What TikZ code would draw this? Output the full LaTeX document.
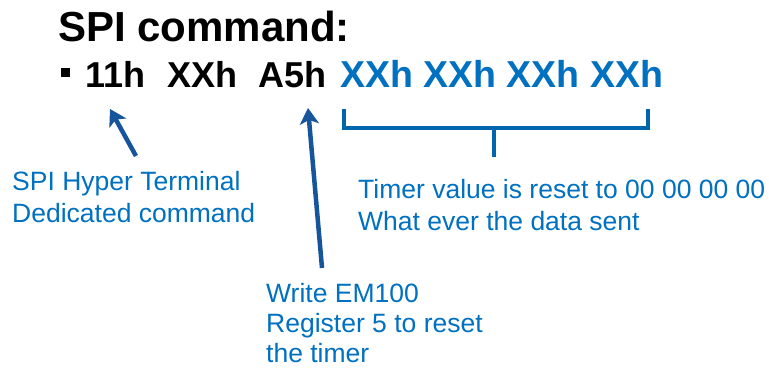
\documentclass[tikz,border=0pt]{standalone}
\usepackage{fontspec}
\setmainfont{Liberation Sans}
\usetikzlibrary{arrows.meta, positioning, calc}

\definecolor{cmdblue}{RGB}{0,112,192}
\definecolor{arrowblue}{RGB}{22,84,156}

\begin{document}
\begin{tikzpicture}[
    x=1pt, y=-1pt,
    % Define styles
    title/.style={font=\fontsize{42}{50}\selectfont\bfseries, inner sep=0pt, anchor=base west},
    byte/.style={font=\fontsize{36}{42}\selectfont\bfseries, inner sep=0pt, anchor=base west},
    note/.style={font=\fontsize{26.5}{32}\selectfont, text=cmdblue, align=left, inner sep=0pt, anchor=base west},
    pointer/.style={line width=4.5pt, draw=arrowblue, fill=arrowblue, arrows={-Stealth[width=19pt, length=16pt, inset=4pt]}},
    brace/.style={line width=4pt, draw=cmdblue!90!black}
]
\useasboundingbox (0,0) rectangle (769,369);

% 1. Heading and command bytes
\node[title] (head) at (58,42) {SPI command:};
\node[fill=black, minimum size=9pt, inner sep=0pt] (bullet) at (65,73) {};
\node[byte] (cmd) at (85,88) {11h};
\node[byte] (addr) at (167,88) {XXh};
\node[byte] (reg) at (258,88) {A5h};
\node[byte, font=\fontsize{37.5}{42}\selectfont\bfseries, text=cmdblue] (data) at (340,88) {XXh XXh XXh XXh};

% 2. Notes (anchored on the last line)
\node[note] (spinote) at (12,222) {SPI Hyper Terminal\\Dedicated command};
\node[note] (timernote) at (358,230) {Timer value is reset to 00 00 00 00\\What ever the data sent};
\node[note, font=\fontsize{26.5}{30}\selectfont] (regnote) at (266,362) {Write EM100\\Register 5 to reset\\the timer};

% Connections
\coordinate (tip1) at (110,109);
\coordinate (tail1) at (136,156);
\draw[pointer] (tail1) -- (tip1);

\coordinate (tip2) at (308,108);
\coordinate (tail2) at (322,268);
\draw[pointer] (tail2) -- (tip2);

% Brace under data bytes
\coordinate (bl) at (344,109);
\coordinate (br) at (648,109);
\coordinate (bmid) at (494,128);
\coordinate (btail) at (494,157);
\draw[brace] (bl) |- (bmid) -| (br);
\draw[brace] (bmid) -- (btail);

\end{tikzpicture}
\end{document}
